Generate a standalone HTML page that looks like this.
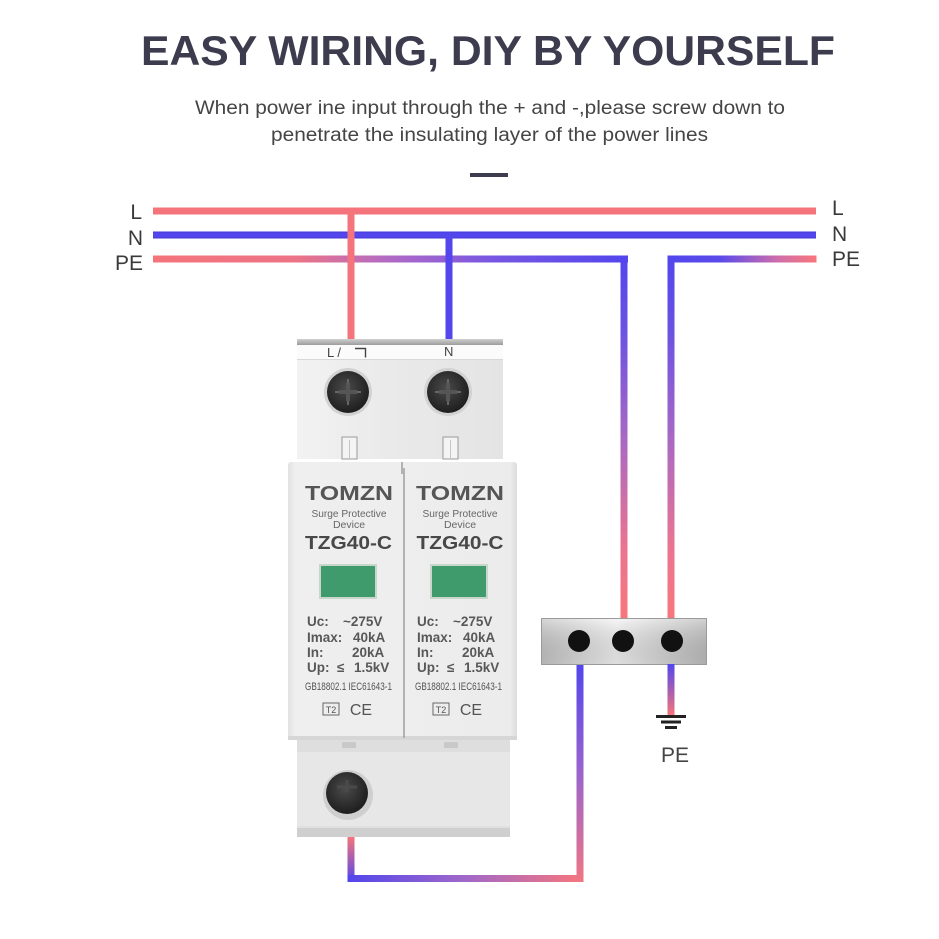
<!DOCTYPE html>
<html><head><meta charset="utf-8"><style>
html,body{margin:0;padding:0;background:#fff;}
svg{display:block;}
text{font-family:"Liberation Sans",Arial,sans-serif;}
</style></head><body>
<svg width="939" height="939" viewBox="0 0 939 939" xmlns="http://www.w3.org/2000/svg">
<defs>
<linearGradient id="gPEL" gradientUnits="userSpaceOnUse" x1="153" y1="0" x2="628" y2="0">
<stop offset="0" stop-color="#f5747b"/><stop offset="0.3" stop-color="#ec7486"/><stop offset="0.5" stop-color="#b06ac6"/><stop offset="0.72" stop-color="#7656e2"/><stop offset="1" stop-color="#5246ec"/></linearGradient>
<linearGradient id="gPER" gradientUnits="userSpaceOnUse" x1="668" y1="0" x2="816" y2="0">
<stop offset="0" stop-color="#5246ec"/><stop offset="0.35" stop-color="#5a4aea"/><stop offset="0.75" stop-color="#d06eaa"/><stop offset="1" stop-color="#f7767c"/></linearGradient>
<linearGradient id="gVdown" gradientUnits="userSpaceOnUse" x1="0" y1="259" x2="0" y2="618">
<stop offset="0" stop-color="#5246ec"/><stop offset="0.2" stop-color="#6a52e2"/><stop offset="0.5" stop-color="#a868c4"/><stop offset="0.8" stop-color="#ea7490"/><stop offset="1" stop-color="#f7767c"/></linearGradient>
<linearGradient id="gV3" gradientUnits="userSpaceOnUse" x1="0" y1="664" x2="0" y2="882">
<stop offset="0" stop-color="#5246ec"/><stop offset="0.5" stop-color="#9a64cc"/><stop offset="1" stop-color="#f07684"/></linearGradient>
<linearGradient id="gH" gradientUnits="userSpaceOnUse" x1="347" y1="0" x2="584" y2="0">
<stop offset="0" stop-color="#5246ec"/><stop offset="0.5" stop-color="#a068c8"/><stop offset="1" stop-color="#f7767c"/></linearGradient>
<linearGradient id="gV4" gradientUnits="userSpaceOnUse" x1="0" y1="837" x2="0" y2="882">
<stop offset="0" stop-color="#f5747b"/><stop offset="1" stop-color="#5246ec"/></linearGradient>
<linearGradient id="gV5" gradientUnits="userSpaceOnUse" x1="0" y1="664" x2="0" y2="715">
<stop offset="0" stop-color="#5246ec"/><stop offset="1" stop-color="#f5747b"/></linearGradient>
<linearGradient id="gBox" x1="0" y1="0" x2="1" y2="0">
<stop offset="0" stop-color="#c4c4c4"/><stop offset="0.45" stop-color="#f2f2f2"/><stop offset="1" stop-color="#bdbdbd"/></linearGradient>
<linearGradient id="gBoxV" x1="0" y1="0" x2="0" y2="1">
<stop offset="0" stop-color="#ffffff" stop-opacity="0.3"/><stop offset="1" stop-color="#000" stop-opacity="0.08"/></linearGradient>
<linearGradient id="gTop" x1="0" y1="0" x2="1" y2="0">
<stop offset="0" stop-color="#f2f2f2"/><stop offset="0.5" stop-color="#e9e9e9"/><stop offset="1" stop-color="#e4e4e4"/></linearGradient>
<linearGradient id="gBody" x1="0" y1="0" x2="1" y2="0">
<stop offset="0" stop-color="#e2e2e2"/><stop offset="0.03" stop-color="#efefef"/><stop offset="0.97" stop-color="#ececec"/><stop offset="1" stop-color="#dcdcdc"/></linearGradient>
<linearGradient id="gBar" x1="0" y1="0" x2="0" y2="1">
<stop offset="0" stop-color="#d0d0d0"/><stop offset="1" stop-color="#9c9c9c"/></linearGradient>
<radialGradient id="gScrew" cx="0.45" cy="0.4" r="0.6">
<stop offset="0" stop-color="#4a4a4a"/><stop offset="1" stop-color="#1e1e1e"/></radialGradient>
</defs>

<!-- Title -->
<text x="488" y="65" font-size="42" font-weight="bold" fill="#3c3c4e" text-anchor="middle" textLength="694" lengthAdjust="spacingAndGlyphs">EASY WIRING, DIY BY YOURSELF</text>
<text x="490" y="114" font-size="19" fill="#454545" text-anchor="middle" textLength="590" lengthAdjust="spacingAndGlyphs">When power ine input through the + and -,please screw down to</text>
<text x="489.5" y="141" font-size="19" fill="#454545" text-anchor="middle" textLength="437" lengthAdjust="spacingAndGlyphs">penetrate the insulating layer of the power lines</text>
<rect x="470" y="173" width="38" height="4" fill="#3d3d4f"/>

<!-- Line labels -->
<g font-size="21" fill="#3a3a3a">
<text x="142" y="219" text-anchor="end">L</text>
<text x="143" y="245" text-anchor="end">N</text>
<text x="143" y="270" text-anchor="end">PE</text>
<text x="832" y="215">L</text>
<text x="832" y="241">N</text>
<text x="832" y="266">PE</text>
</g>

<!-- Main horizontal lines -->
<rect x="153" y="207.5" width="663" height="7" fill="#f5747b"/>
<rect x="153" y="231.5" width="663" height="7" fill="#5246ec"/>
<rect x="153" y="231.5" width="663" height="1" fill="#3a30c0" opacity="0.5"/>
<rect x="153" y="237.5" width="663" height="1" fill="#3a30c0" opacity="0.5"/>
<!-- PE left -->
<rect x="153" y="255.5" width="475" height="7" fill="url(#gPEL)"/>
<rect x="620.5" y="255.5" width="7" height="363" fill="url(#gVdown)"/>
<!-- PE right -->
<rect x="667.5" y="255.5" width="149" height="7" fill="url(#gPER)"/>
<rect x="667.5" y="255.5" width="7" height="363" fill="url(#gVdown)"/>

<!-- L and N drops -->
<rect x="347.5" y="211" width="7" height="130" fill="#f5747b"/>
<rect x="445.5" y="235" width="7" height="106" fill="#5246ec"/>

<!-- Device: top piece -->
<rect x="297" y="344" width="206" height="16" fill="#fbfbfb"/>
<g font-size="13" fill="#444">
<text x="327" y="357">L /</text>
<text x="444" y="356">N</text>
</g>
<path d="M355 348.5h10.5v9" fill="none" stroke="#444" stroke-width="1.4"/>
<rect x="297" y="339" width="206" height="6" fill="url(#gBar)"/>
<rect x="297" y="359" width="206" height="100" fill="url(#gTop)"/>
<rect x="297" y="359" width="206" height="1" fill="#d8d8d8"/>
<!-- top screws -->
<g>
<circle cx="348" cy="392" r="24" fill="#d2d2d2"/>
<circle cx="348" cy="392" r="21" fill="url(#gScrew)"/>
<path d="M339 392h18M348 383v18" stroke="#555" stroke-width="4"/>
<path d="M335 392h4M357 392h4M348 379v4M348 401v4" stroke="#666" stroke-width="2"/>
<circle cx="448" cy="392" r="24" fill="#d2d2d2"/>
<circle cx="448" cy="392" r="21" fill="url(#gScrew)"/>
<path d="M439 392h18M448 383v18" stroke="#555" stroke-width="4"/>
<path d="M435 392h4M457 392h4M448 379v4M448 401v4" stroke="#666" stroke-width="2"/>
</g>
<!-- small slots -->
<rect x="342" y="437" width="15" height="22" fill="#f4f4f4" stroke="#9a9a9a" stroke-width="1"/>
<line x1="349.5" y1="440" x2="349.5" y2="459" stroke="#c4c4c4"/>
<rect x="443" y="437" width="15" height="22" fill="#f4f4f4" stroke="#9a9a9a" stroke-width="1"/>
<line x1="450.5" y1="440" x2="450.5" y2="459" stroke="#c4c4c4"/>

<!-- Lower piece -->
<rect x="297" y="738" width="213" height="94" fill="#e7e7e7"/>
<rect x="297" y="740" width="213" height="12" fill="#dedede"/>
<rect x="297" y="826" width="213" height="11" fill="#cfcfcf"/>
<rect x="297" y="826" width="213" height="2" fill="#e0e0e0"/>
<rect x="342" y="742" width="14" height="6" fill="#c9c9c9"/>
<rect x="444" y="742" width="14" height="6" fill="#c9c9c9"/>
<circle cx="348" cy="795" r="25" fill="#cfcfcf"/>
<circle cx="347" cy="793" r="21" fill="url(#gScrew)"/>
<path d="M337 787h20M347 780v12" stroke="#4a4a4a" stroke-width="3"/>

<!-- Main body -->
<rect x="288" y="462" width="229" height="278" rx="3" fill="url(#gBody)"/>
<rect x="288" y="736" width="229" height="4" fill="#d6d6d6"/>
<line x1="404" y1="468" x2="404" y2="738" stroke="#9e9e9e" stroke-width="1.5"/>
<line x1="402" y1="462" x2="402" y2="474" stroke="#777" stroke-width="1"/>

<!-- Column 1 text -->
<g fill="#555">
<text x="349" y="500" font-size="20" font-weight="bold" text-anchor="middle" textLength="88" lengthAdjust="spacingAndGlyphs">TOMZN</text>
<text x="349" y="517" font-size="10.5" text-anchor="middle" fill="#666" textLength="75" lengthAdjust="spacingAndGlyphs">Surge Protective</text>
<text x="349" y="528" font-size="10.5" text-anchor="middle" fill="#666">Device</text>
<text x="348.5" y="549" font-size="18" font-weight="bold" text-anchor="middle" fill="#484848" textLength="87" lengthAdjust="spacingAndGlyphs">TZG40-C</text>
</g>
<rect x="319" y="564" width="58" height="35" fill="#c9d6cc"/>
<rect x="321" y="566" width="54" height="31" fill="#3f9a6c"/>
<g fill="#585858" font-size="13.5" font-weight="bold">
<text x="307" y="626">Uc:</text><text x="343" y="626">~275V</text>
<text x="307" y="642">Imax:</text><text x="353" y="642">40kA</text>
<text x="307" y="657">In:</text><text x="352" y="657">20kA</text>
<text x="307" y="672">Up:</text><text x="337" y="672">≤</text><text x="354" y="672">1.5kV</text>
</g>
<text x="305" y="690" font-size="11" fill="#555" textLength="87" lengthAdjust="spacingAndGlyphs">GB18802.1 IEC61643-1</text>
<rect x="323" y="703" width="16" height="12" fill="none" stroke="#666" stroke-width="1"/>
<text x="331" y="713" font-size="9" fill="#555" text-anchor="middle">T2</text>
<text x="361" y="715" font-size="16" fill="#555" text-anchor="middle">CE</text>

<!-- Column 2 text -->
<g fill="#555">
<text x="460" y="500" font-size="20" font-weight="bold" text-anchor="middle" textLength="88" lengthAdjust="spacingAndGlyphs">TOMZN</text>
<text x="460" y="517" font-size="10.5" text-anchor="middle" fill="#666" textLength="75" lengthAdjust="spacingAndGlyphs">Surge Protective</text>
<text x="460" y="528" font-size="10.5" text-anchor="middle" fill="#666">Device</text>
<text x="460" y="549" font-size="18" font-weight="bold" text-anchor="middle" fill="#484848" textLength="87" lengthAdjust="spacingAndGlyphs">TZG40-C</text>
</g>
<rect x="430" y="564" width="58" height="35" fill="#c9d6cc"/>
<rect x="432" y="566" width="54" height="31" fill="#3f9a6c"/>
<g fill="#585858" font-size="13.5" font-weight="bold">
<text x="417" y="626">Uc:</text><text x="453" y="626">~275V</text>
<text x="417" y="642">Imax:</text><text x="463" y="642">40kA</text>
<text x="417" y="657">In:</text><text x="462" y="657">20kA</text>
<text x="417" y="672">Up:</text><text x="447" y="672">≤</text><text x="464" y="672">1.5kV</text>
</g>
<text x="415" y="690" font-size="11" fill="#555" textLength="87" lengthAdjust="spacingAndGlyphs">GB18802.1 IEC61643-1</text>
<rect x="433" y="703" width="16" height="12" fill="none" stroke="#666" stroke-width="1"/>
<text x="441" y="713" font-size="9" fill="#555" text-anchor="middle">T2</text>
<text x="471" y="715" font-size="16" fill="#555" text-anchor="middle">CE</text>

<!-- Bottom wiring -->
<rect x="347.5" y="837" width="7" height="45" fill="url(#gV4)"/>
<rect x="347.5" y="875" width="236" height="7" fill="url(#gH)"/>
<rect x="576.5" y="664" width="7" height="218" fill="url(#gV3)"/>

<!-- Terminal box -->
<rect x="541.5" y="618.5" width="165" height="46" fill="url(#gBox)" stroke="#9a9a9a" stroke-width="1"/>
<rect x="542" y="619" width="164" height="45" fill="url(#gBoxV)"/>
<circle cx="579" cy="641" r="11" fill="#111"/>
<circle cx="623" cy="641" r="11" fill="#111"/>
<circle cx="672" cy="641" r="11" fill="#111"/>

<!-- PE ground -->
<rect x="667.5" y="664" width="7" height="51" fill="url(#gV5)"/>
<rect x="656" y="715" width="30" height="3" fill="#222"/>
<rect x="661" y="720.5" width="20" height="3" fill="#222"/>
<rect x="665" y="726" width="12" height="3" fill="#222"/>
<text x="675" y="762" font-size="21" fill="#444" text-anchor="middle">PE</text>
</svg>
</body></html>
